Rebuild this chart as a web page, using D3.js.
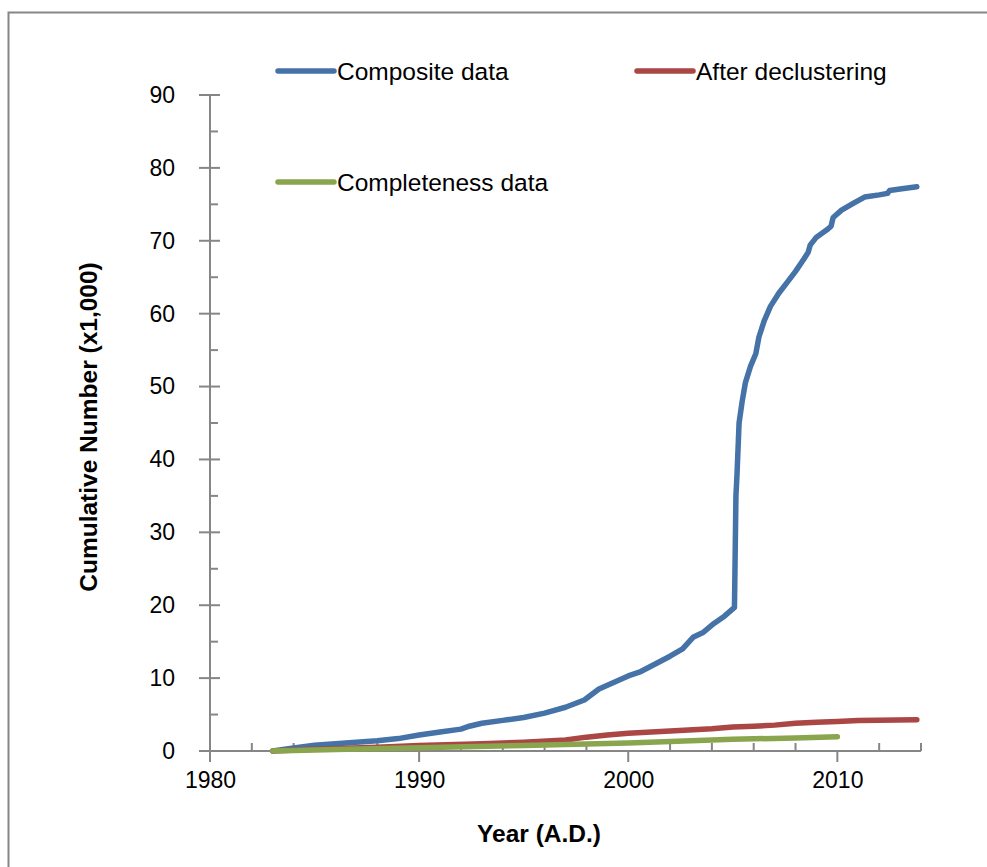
<!DOCTYPE html>
<html lang="en">
<head>
    <meta charset="UTF-8">
    <title>Cumulative Number</title>
    <script src="https://cdn.jsdelivr.net/npm/d3@7"></script>
    <style>
        body { margin: 0; background: #fff; }
        text { font-family: Arial, "Liberation Sans", sans-serif; fill: #000; }
    </style>
</head>
<body>
<script>
// year, cumulative number (x1,000)
const compositeData = [
    [1983.0, 0], [1984.0, 0.4], [1985.0, 0.8], [1986.0, 1.0], [1987.0, 1.2],
    [1988.0, 1.4], [1989.0, 1.7], [1990.0, 2.2], [1991.0, 2.6], [1992.0, 3.0],
    [1992.4, 3.4], [1993.0, 3.8], [1994.0, 4.2], [1995.0, 4.6], [1996.0, 5.2],
    [1997.0, 6.0], [1997.9, 7.0], [1998.6, 8.5], [1999.3, 9.4], [2000.0, 10.3],
    [2000.6, 10.9], [2001.2, 11.8], [2002.0, 13.0], [2002.6, 14.0], [2003.1, 15.6],
    [2003.6, 16.3], [2004.1, 17.5], [2004.6, 18.5], [2005.0, 19.5], [2005.08, 19.7],
    [2005.15, 35], [2005.2, 37.8], [2005.3, 45], [2005.45, 48], [2005.6, 50.5],
    [2005.85, 52.8], [2006.1, 54.5], [2006.25, 56.8], [2006.5, 59], [2006.8, 61],
    [2007.2, 62.8], [2007.6, 64.3], [2008.0, 65.8], [2008.4, 67.5], [2008.6, 68.4],
    [2008.7, 69.4], [2009.0, 70.5], [2009.5, 71.5], [2009.7, 72], [2009.8, 73.2],
    [2010.2, 74.2], [2010.8, 75.2], [2011.3, 76], [2012.0, 76.3], [2012.4, 76.5],
    [2012.5, 76.9], [2013.0, 77.1], [2013.8, 77.4]
]
const declusteredData = [
    [1983.0, 0], [1985.0, 0.25], [1988.0, 0.5], [1990.0, 0.75], [1993.0, 1.0],
    [1995.0, 1.2], [1997.0, 1.5], [1998.0, 1.9], [1999.0, 2.2], [2000.0, 2.45],
    [2002.0, 2.75], [2004.0, 3.05], [2005.0, 3.3], [2006.0, 3.4], [2007.0, 3.55],
    [2008.0, 3.8], [2009.0, 3.95], [2010.0, 4.05], [2011.0, 4.2], [2013.8, 4.3]
]
const completenessData = [
    [1983.0, 0], [1986.0, 0.2], [1990.0, 0.45], [1995.0, 0.75], [2000.0, 1.1],
    [2005.0, 1.6], [2008.0, 1.8], [2010.0, 1.95]
]

const seriesNames = ['Composite data', 'After declustering', 'Completeness data']
const seriesColours = ['#4572A7', '#AA4643', '#89A54E']

const xTickValues = [1980, 1990, 2000, 2010]
const yTickValues = [0, 10, 20, 30, 40, 50, 60, 70, 80, 90]

const width = 987
const height = 867

const svg = d3.select('body')
    .append('svg')
    .attr('width', width)
    .attr('height', height)

// outer frame (only top/left visible in the crop)
svg.append('path')
    .attr('d', 'M8.5,900 V12.5 H1000')
    .attr('fill', 'none')
    .attr('stroke', '#868686')
    .attr('stroke-width', 2)

const xScale = d3.scaleLinear().domain([1980, 2014]).range([210, 921])
const yScale = d3.scaleLinear().domain([0, 90]).range([751, 95])

const axisColour = '#868686'
const g = svg.append('g')

// y axis: major ticks cross the line, minor ticks inside
const yAxis = d3.axisLeft(yScale).tickValues(yTickValues).tickSize(0).tickPadding(35)
const yAxisG = g.append('g')
    .attr('transform', `translate(${xScale(1980)},0)`)
    .call(yAxis)
yAxisG.select('.domain').remove()
yAxisG.selectAll('text').style('font-size', '23px')

g.selectAll('.y-major')
    .data(yTickValues)
    .enter()
    .append('line')
    .attr('x1', xScale(1980) - 11)
    .attr('x2', xScale(1980) + 10)
    .attr('y1', (d) => yScale(d))
    .attr('y2', (d) => yScale(d))
    .attr('stroke', axisColour)
    .attr('stroke-width', 2)

g.selectAll('.y-minor')
    .data(d3.range(5, 90, 10))
    .enter()
    .append('line')
    .attr('x1', xScale(1980))
    .attr('x2', xScale(1980) + 8)
    .attr('y1', (d) => yScale(d))
    .attr('y2', (d) => yScale(d))
    .attr('stroke', axisColour)
    .attr('stroke-width', 2)

g.append('line')
    .attr('x1', xScale(1980)).attr('x2', xScale(1980))
    .attr('y1', yScale(90)).attr('y2', yScale(0) + 11)
    .attr('stroke', axisColour)
    .attr('stroke-width', 2)

// x axis: decade ticks go down, two-year ticks go up
const xAxis = d3.axisBottom(xScale).tickValues(xTickValues).tickSize(0).tickPadding(21).tickFormat(d3.format('d'))
const xAxisG = g.append('g')
    .attr('transform', `translate(0,${yScale(0)})`)
    .call(xAxis)
xAxisG.select('.domain').remove()
xAxisG.selectAll('text').style('font-size', '23px')

g.selectAll('.x-minor')
    .data(d3.range(1982, 2015, 2).filter((d) => d % 10 !== 0))
    .enter()
    .append('line')
    .attr('x1', (d) => xScale(d))
    .attr('x2', (d) => xScale(d))
    .attr('y1', yScale(0))
    .attr('y2', yScale(0) - 8)
    .attr('stroke', axisColour)
    .attr('stroke-width', 2)

g.selectAll('.x-major')
    .data(xTickValues)
    .enter()
    .append('line')
    .attr('x1', (d) => xScale(d))
    .attr('x2', (d) => xScale(d))
    .attr('y1', yScale(0))
    .attr('y2', yScale(0) + 11)
    .attr('stroke', axisColour)
    .attr('stroke-width', 2)

g.append('line')
    .attr('x1', xScale(1980) - 11).attr('x2', xScale(2014))
    .attr('y1', yScale(0)).attr('y2', yScale(0))
    .attr('stroke', axisColour)
    .attr('stroke-width', 2)

// axis titles
svg.append('text')
    .attr('x', 539)
    .attr('y', 842)
    .attr('text-anchor', 'middle')
    .style('font-size', '24.5px')
    .style('font-weight', 'bold')
    .text('Year (A.D.)')

svg.append('text')
    .attr('transform', 'translate(97,427) rotate(-90)')
    .attr('text-anchor', 'middle')
    .style('font-size', '24.5px')
    .style('font-weight', 'bold')
    .text('Cumulative Number (x1,000)')

// series
const line = d3.line()
    .x((d) => xScale(d[0]))
    .y((d) => yScale(d[1]))

const allSeries = [compositeData, declusteredData, completenessData]

allSeries.forEach((data, i) => {
    g.append('path')
        .datum(data)
        .attr('d', line)
        .attr('fill', 'none')
        .attr('stroke', seriesColours[i])
        .attr('stroke-width', 5.5)
        .attr('stroke-linejoin', 'round')
        .attr('stroke-linecap', 'round')
})

// legend
const legendPos = [[278, 71], [637, 71], [278, 182]]
const legend = svg.selectAll('.legend')
    .data(seriesNames)
    .enter()
    .append('g')
    .attr('class', 'legend')
    .attr('transform', (d, i) => `translate(${legendPos[i][0]},${legendPos[i][1]})`)

legend.append('line')
    .attr('x1', 0)
    .attr('x2', 56)
    .attr('stroke', (d, i) => seriesColours[i])
    .attr('stroke-width', 5.5)
    .attr('stroke-linecap', 'round')

legend.append('text')
    .attr('x', 59)
    .attr('dy', '0.35em')
    .style('font-size', '24.5px')
    .text((d) => d)
</script>
</body>
</html>
